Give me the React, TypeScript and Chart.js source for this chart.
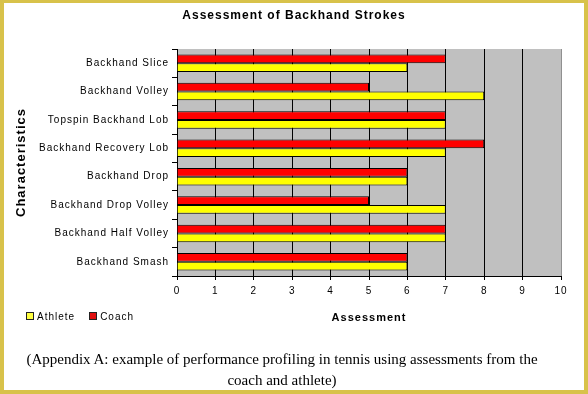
import React, { useEffect, useRef } from "react";
import { Chart, registerables } from "chart.js";

Chart.register(...registerables);

const categories = [
  "Backhand Slice",
  "Backhand Volley",
  "Topspin Backhand Lob",
  "Backhand Recovery Lob",
  "Backhand Drop",
  "Backhand Drop Volley",
  "Backhand Half Volley",
  "Backhand Smash",
];
const coachValues = [7, 5, 7, 8, 6, 5, 7, 6];
const athleteValues = [6, 8, 7, 7, 6, 7, 7, 6];
const xTickMax = 10;

const spacingPlugin = {
  id: "spacing",
  beforeLayout(chart: any) {
    chart.ctx.letterSpacing = "1px";
  },
  beforeDraw(chart: any) {
    const { ctx, chartArea } = chart;
    ctx.letterSpacing = "1px";
    ctx.save();
    ctx.fillStyle = "#c0c0c0";
    ctx.fillRect(chartArea.left, chartArea.top, chartArea.right - chartArea.left, chartArea.bottom - chartArea.top);
    ctx.restore();
  },
};

export default function App() {
  const ref = useRef<HTMLCanvasElement | null>(null);
  useEffect(() => {
    if (!ref.current) return;
    const chart = new Chart(ref.current, {
      type: "bar",
      data: {
        labels: categories,
        datasets: [
          {
            label: "Coach",
            data: coachValues,
            backgroundColor: "#ff0000",
            borderColor: "#000000",
            borderWidth: 1,
            categoryPercentage: 0.62,
            barPercentage: 1,
          },
          {
            label: "Athlete",
            data: athleteValues,
            backgroundColor: "#ffff00",
            borderColor: "#000000",
            borderWidth: 1,
            categoryPercentage: 0.62,
            barPercentage: 1,
          },
        ],
      },
      options: {
        indexAxis: "y",
        animation: false,
        responsive: false,
        devicePixelRatio: 1,
        layout: { padding: { left: 4, right: 27, top: 49, bottom: 58 } },
        plugins: {
          legend: { display: false },
          tooltip: { enabled: false },
          title: { display: false },
        },
        scales: {
          x: {
            min: 0,
            max: xTickMax,
            afterFit(scale: any) {
              scale.height = 60;
            },
            ticks: {
              stepSize: 1,
              color: "#000",
              padding: 5,
              font: { family: "Arial, 'Liberation Sans', sans-serif", size: 10 },
            },
            grid: {
              color: (c: any) => (c.tick && c.tick.value === xTickMax ? "#909090" : "#000000"),
              tickColor: "#000000",
              tickLength: 4,
              lineWidth: 1,
            },
            border: { display: true, color: "#000000", width: 1 },
            title: {
              display: true,
              text: "Assessment",
              color: "#000",
              font: { family: "Arial, 'Liberation Sans', sans-serif", size: 11, weight: "bold" },
              padding: { top: 0, bottom: 11.4 },
            },
          },
          y: {
            afterFit(scale: any) {
              scale.width = 173;
            },
            ticks: {
              color: "#000",
              padding: 3,
              font: { family: "Arial, 'Liberation Sans', sans-serif", size: 10 },
            },
            grid: {
              offset: true,
              drawOnChartArea: false,
              drawTicks: true,
              tickLength: 5,
              color: "#000000",
              tickColor: "#000000",
            },
            border: { display: true, color: "#000000", width: 1 },
            title: {
              display: true,
              text: "Characteristics",
              color: "#000",
              font: { family: "Arial, 'Liberation Sans', sans-serif", size: 13, weight: "bold" },
              padding: { top: 10, bottom: 0 },
            },
          },
        },
      },
      plugins: [spacingPlugin],
    } as any);
    return () => chart.destroy();
  }, []);

  const legendText: React.CSSProperties = {
    fontFamily: "Arial, 'Liberation Sans', sans-serif",
    fontSize: 10,
    letterSpacing: "1px",
    color: "#000",
  };
  const box = (bg: string): React.CSSProperties => ({
    display: "inline-block",
    width: 6,
    height: 6,
    background: bg,
    border: "1px solid #222",
    marginRight: 3,
    verticalAlign: "middle",
  });

  return (
    <div style={{ position: "fixed", left: 0, top: 0, width: 588, height: 394, background: "#fff", overflow: "hidden" }}>
      <canvas ref={ref} width={588} height={394} style={{ position: "absolute", left: 0, top: 0, width: 588, height: 394 }} />
      <div
        style={{
          position: "absolute",
          left: 0,
          width: 588,
          top: 7,
          textAlign: "center",
          fontFamily: "Arial, 'Liberation Sans', sans-serif",
          fontSize: 12,
          fontWeight: "bold",
          letterSpacing: "1px",
          lineHeight: "16px",
          color: "#000",
        }}
      >
        Assessment of Backhand Strokes
      </div>
      <div style={{ position: "absolute", left: 26, top: 310, whiteSpace: "nowrap", ...legendText }}>
        <span style={box("#ffff40")} />
        <span style={{ verticalAlign: "middle" }}>Athlete</span>
        <span style={{ display: "inline-block", width: 14 }} />
        <span style={box("#e01010")} />
        <span style={{ verticalAlign: "middle" }}>Coach</span>
      </div>
      <div
        style={{
          position: "absolute",
          left: 0,
          width: 564,
          top: 349,
          textAlign: "center",
          fontFamily: "'Liberation Serif', 'Times New Roman', serif",
          fontSize: 15,
          lineHeight: "21px",
          color: "#000",
          whiteSpace: "nowrap",
        }}
      >
        (Appendix A: example of performance profiling in tennis using assessments from the
        <br />
        coach and athlete)
      </div>
      <div
        style={{
          position: "absolute",
          left: 0,
          top: 0,
          width: 588,
          height: 394,
          boxSizing: "border-box",
          borderStyle: "solid",
          borderColor: "#d8c24a",
          borderWidth: "3px 4px 4px 4px",
          pointerEvents: "none",
        }}
      />
    </div>
  );
}
